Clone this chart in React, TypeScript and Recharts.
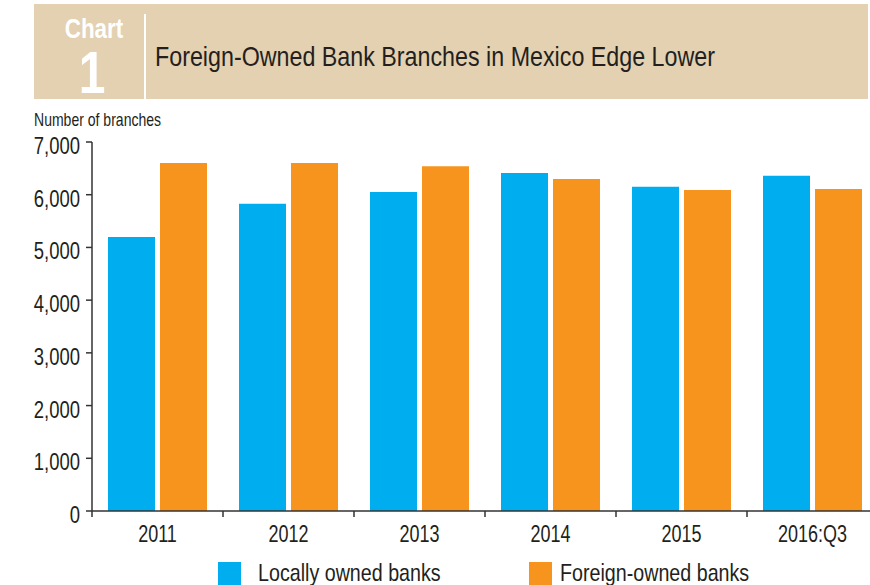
import React from "react";
import { BarChart, Bar, XAxis, YAxis } from "recharts";

const years = ["2011", "2012", "2013", "2014", "2015", "2016:Q3"];
const locallyOwned = [5200, 5830, 6050, 6410, 6150, 6360];
const foreignOwned = [6600, 6600, 6540, 6300, 6090, 6110];
const yTicks = [0, 1000, 2000, 3000, 4000, 5000, 6000, 7000];
const seriesNames = ["Locally owned banks", "Foreign-owned banks"];

const data = years.map((year, i) => ({
  year,
  local: locallyOwned[i],
  foreign: foreignOwned[i],
}));

// no narrow font installed, so Liberation Sans gets squeezed horizontally
const FONT = '"Liberation Sans", Arial, sans-serif';
const BLUE = "#00aeef";
const ORANGE = "#f7941d";
const TAN = "#e3d1b1";
const AXIS = "#333333";
const TEXT = "#231f20";

const CHART_W = 878;
const CHART_H = 585;
const Y_AXIS_W = 92;
const BAND = (CHART_W - Y_AXIS_W) / years.length;

function fmt(v: number) {
  return v.toLocaleString("en-US");
}

// eslint-disable-next-line @typescript-eslint/no-explicit-any
function Narrow({ x, y, sx, size, anchor = "start", bold, fill = TEXT, children }: any) {
  return (
    <text
      transform={`translate(${x},${y}) scale(${sx},1)`}
      textAnchor={anchor}
      fontSize={size}
      fontFamily={FONT}
      fontWeight={bold ? "bold" : "normal"}
      fill={fill}
    >
      {children}
    </text>
  );
}

// eslint-disable-next-line @typescript-eslint/no-explicit-any
function XTick({ x, y, payload }: any) {
  const left = x - BAND / 2;
  return (
    <g>
      <line x1={left} y1={y - 7} x2={left} y2={y - 1} stroke={AXIS} strokeWidth={1.5} />
      <Narrow x={x} y={y + 24} sx={0.75} size={24} anchor="middle">
        {payload.value}
      </Narrow>
    </g>
  );
}

// eslint-disable-next-line @typescript-eslint/no-explicit-any
function YTick({ x, y, payload }: any) {
  return (
    <Narrow x={x} y={y + 12} sx={0.77} size={24} anchor="end">
      {fmt(payload.value)}
    </Narrow>
  );
}

function Overlay() {
  const legend = [
    { label: seriesNames[0], color: BLUE, box: 218, text: 258 },
    { label: seriesNames[1], color: ORANGE, box: 529, text: 560 },
  ];
  return (
    <svg
      width={870}
      height={585}
      style={{ position: "absolute", left: 0, top: 0, pointerEvents: "none" }}
    >
      <rect x={34} y={4} width={834} height={95} fill={TAN} />
      <Narrow x={94} y={38} sx={0.8} size={28} anchor="middle" bold fill="#fff">
        Chart
      </Narrow>
      <Narrow x={92} y={93} sx={0.8} size={60} anchor="middle" bold fill="#fff">
        1
      </Narrow>
      <rect x={144} y={14} width={2} height={85} fill="#fff" />
      <text
        x={155}
        y={66}
        fontSize={28}
        fontFamily={FONT}
        fill={TEXT}
        textLength={560}
        lengthAdjust="spacingAndGlyphs"
      >
        Foreign-Owned Bank Branches in Mexico Edge Lower
      </text>
      <Narrow x={34} y={126} sx={0.78} size={18}>
        Number of branches
      </Narrow>
      {legend.map((it) => (
        <g key={it.label}>
          <rect x={it.box} y={562} width={23} height={23} fill={it.color} />
          <Narrow x={it.text} y={581} sx={0.82} size={24}>
            {it.label}
          </Narrow>
        </g>
      ))}
    </svg>
  );
}

export default function App() {
  return (
    <div
      style={{
        position: "absolute",
        left: 0,
        top: 0,
        width: 870,
        height: 585,
        overflow: "hidden",
        background: "#ffffff",
      }}
    >
      <div style={{ position: "absolute", left: 0, top: 0 }}>
        <BarChart
          width={CHART_W}
          height={CHART_H}
          data={data}
          margin={{ top: 142, right: 0, bottom: 34, left: 0 }}
          barSize={47}
          barGap={5}
        >
          <XAxis
            dataKey="year"
            axisLine={{ stroke: AXIS, strokeWidth: 1.5 }}
            tickLine={false}
            tickSize={7}
            tickMargin={0}
            tick={<XTick />}
            interval={0}
            height={40}
          />
          <YAxis
            domain={[0, 7000]}
            ticks={yTicks}
            width={Y_AXIS_W}
            axisLine={{ stroke: AXIS, strokeWidth: 1.5 }}
            tickLine={{ stroke: AXIS, strokeWidth: 1.5 }}
            tickSize={6}
            tickMargin={6}
            tick={<YTick />}
          />
          <Bar dataKey="local" name={seriesNames[0]} fill={BLUE} isAnimationActive={false} />
          <Bar dataKey="foreign" name={seriesNames[1]} fill={ORANGE} isAnimationActive={false} />
        </BarChart>
      </div>
      <Overlay />
    </div>
  );
}
